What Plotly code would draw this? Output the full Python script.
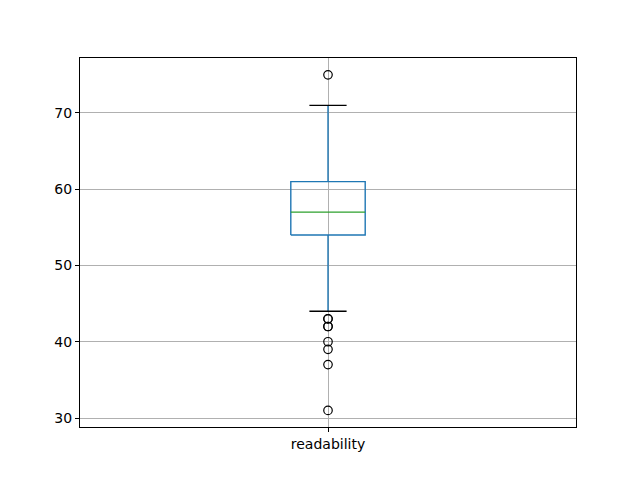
import plotly.graph_objects as go

category = "readability"
q1 = 54
median = 57
q3 = 61
whisker_low = 44
whisker_high = 71
outliers = [75, 43, 43, 42, 42, 40, 39, 37, 31]
y_ticks = [30, 40, 50, 60, 70]

pos = 1.0
half_box = 0.075
half_cap = 0.0375

fig = go.Figure()
blue = "#1f77b4"
# whiskers
fig.add_trace(go.Scatter(x=[pos, pos], y=[q3, whisker_high], mode="lines",
                         line=dict(color=blue, width=1.4), hoverinfo="skip", showlegend=False))
fig.add_trace(go.Scatter(x=[pos, pos], y=[q1, whisker_low], mode="lines",
                         line=dict(color=blue, width=1.4), hoverinfo="skip", showlegend=False))
# caps
for v in (whisker_low, whisker_high):
    fig.add_trace(go.Scatter(x=[pos - half_cap, pos + half_cap], y=[v, v], mode="lines",
                             line=dict(color="black", width=1.4), hoverinfo="skip", showlegend=False))
# box
fig.add_trace(go.Scatter(x=[pos - half_box, pos + half_box, pos + half_box, pos - half_box, pos - half_box],
                         y=[q1, q1, q3, q3, q1], mode="lines",
                         line=dict(color=blue, width=1.4), hoverinfo="skip", showlegend=False))
# median
fig.add_trace(go.Scatter(x=[pos - half_box, pos + half_box], y=[median, median], mode="lines",
                         line=dict(color="#2ca02c", width=1.4), hoverinfo="skip", showlegend=False))
# outliers
fig.add_trace(go.Scatter(x=[pos] * len(outliers), y=outliers, mode="markers",
                         marker=dict(symbol="circle-open", size=8.5, color="black", line=dict(width=1.2)),
                         showlegend=False))

font = dict(family="DejaVu Sans", size=14, color="black")
fig.update_layout(
    width=640, height=480,
    margin=dict(l=80, r=64, t=58, b=53),
    paper_bgcolor="white", plot_bgcolor="white",
    font=font,
    xaxis=dict(range=[0.5, 1.5], tickvals=[pos], ticktext=[category],
               showgrid=True, gridcolor="#b0b0b0", gridwidth=0.8,
               showline=True, linecolor="black", linewidth=1, mirror=True,
               ticks="outside", ticklen=4, tickcolor="black", zeroline=False,
               tickfont=font),
    yaxis=dict(range=[28.82, 77.21], tickvals=y_ticks,
               showgrid=True, gridcolor="#b0b0b0", gridwidth=0.8,
               showline=True, linecolor="black", linewidth=1, mirror=True,
               ticks="outside", ticklen=4, tickcolor="black", zeroline=False,
               tickfont=font),
)
fig.write_html("out.html")
